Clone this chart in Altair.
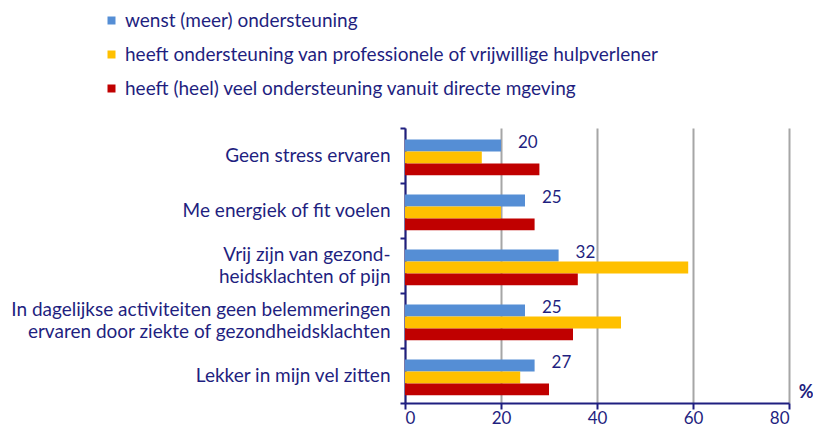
import altair as alt
import pandas as pd

categories = [
    "Geen stress ervaren",
    "Me energiek of fit voelen",
    "Vrij zijn van gezond-|heidsklachten of pijn",
    "In dagelijkse activiteiten geen belemmeringen|ervaren door ziekte of gezondheidsklachten",
    "Lekker in mijn vel zitten",
]
series = [
    "wenst (meer) ondersteuning",
    "heeft ondersteuning van professionele of vrijwillige hulpverlener",
    "heeft (heel) veel ondersteuning vanuit directe mgeving",
]
colors = ["#558ED5", "#FFC000", "#C00000"]
wenst = [20, 25, 32, 25, 27]
professioneel = [16, 20, 59, 45, 24]
omgeving = [28, 27, 36, 35, 30]

rows = []
for i, c in enumerate(categories):
    for s, vals in zip(series, [wenst, professioneel, omgeving]):
        rows.append({"cat": c, "serie": s, "val": vals[i]})
df = pd.DataFrame(rows)

NAVY = "#1F1F80"
FONT = "Lato"

y_enc = alt.Y("cat:N", sort=categories,
              scale=alt.Scale(paddingInner=0, paddingOuter=0),
              axis=alt.Axis(title=None, labelExpr="split(datum.label, '|')",
                            labelFont=FONT, labelFontSize=19, labelColor=NAVY,
                            labelLineHeight=22, labelPadding=10, labelAlign="right",
                            labelOffset={"condition": {"test": "indexof(datum.label, '|') >= 0",
                                                       "value": -11}, "value": 0},
                            tickBand="extent", tickSize=5, tickColor=NAVY, tickWidth=2,
                            domainColor=NAVY, domainWidth=2, grid=False, labelLimit=500))
yoff = alt.YOffset("serie:N", sort=series,
                   scale=alt.Scale(paddingInner=0, paddingOuter=0.8, align=0.6))
x_enc = alt.X("val:Q", scale=alt.Scale(domain=[0, 80]),
              axis=alt.Axis(values=[0, 20, 40, 60, 80], title="%", titleX=408, titleY=-11,
                            titleFont=FONT, titleFontSize=18, titleFontWeight="bold",
                            titleColor=NAVY, titleAlign="right", titleBaseline="middle",
                            titleAngle=0,
                            labelFont=FONT, labelFontSize=17, labelColor=NAVY, labelPadding=1,
                            tickSize=6, tickColor=NAVY, tickWidth=2,
                            domainColor=NAVY, domainWidth=2,
                            grid=True, gridColor="#A6A6A6", gridWidth=2))

bars = alt.Chart(df).mark_bar(cornerRadius=0).encode(
    x=x_enc, y=y_enc, yOffset=yoff,
    color=alt.Color("serie:N", sort=series,
                    scale=alt.Scale(domain=series, range=colors),
                    legend=alt.Legend(title=None, orient="none", legendX=-303, legendY=-117,
                                      symbolType="square", symbolSize=64, symbolStrokeWidth=0,
                                      labelFont=FONT, labelFontSize=19, labelColor=NAVY,
                                      rowPadding=14, labelOffset=4, labelLimit=700)),
)

labels = alt.Chart(df).transform_filter(
    alt.datum.serie == series[0]
).mark_text(align="left", baseline="middle", dx=17, dy=-2,
            font=FONT, fontSize=17, color=NAVY).encode(
    x="val:Q", y=alt.Y("cat:N", sort=categories), yOffset=alt.YOffset("serie:N", sort=series),
    text="val:Q",
)

chart = alt.layer(bars, labels).properties(
    width=384, height=275, autosize="none",
    padding={"left": 397, "top": 120, "right": 24, "bottom": 24},
).configure_view(stroke=None)

chart.save("out.html", embed_options={"renderer": "svg", "actions": False})
